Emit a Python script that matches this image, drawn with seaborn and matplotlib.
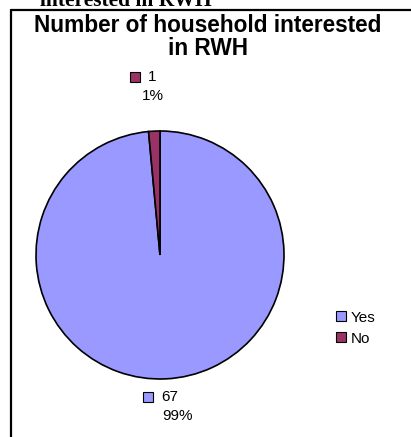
import matplotlib
matplotlib.use("Agg")
import matplotlib.pyplot as plt
from matplotlib.lines import Line2D
import seaborn as sns

categories = ["Yes", "No"]
counts = [67, 1]
percents = ["99%", "1%"]
colors = ["#9999FF", "#993366"]

sns.set_style("white")
plt.rcParams["font.family"] = ["Liberation Sans", "DejaVu Sans"]
plt.rcParams["text.color"] = "black"

W, H = 411, 437
fig = plt.figure(figsize=(W / 100, H / 100), dpi=100)

# pie axes: centre (160, 255) px, radius 124 px
cx, cy, r = 160, 255, 124
ax = fig.add_axes([(cx - r) / W, (H - cy - r) / H, 2 * r / W, 2 * r / H])
wedges, _ = ax.pie(counts, colors=colors, startangle=90, counterclock=False,
                   radius=1, wedgeprops=dict(edgecolor="black", linewidth=1.2))
ax.set_xlim(-1, 1)
ax.set_ylim(-1, 1)
ax.set_aspect("equal")
ax.axis("off")


def px(x, y):
    return (x - cx) / r, (cy - y) / r


# data labels: legend key + value, percent below
label_pos = {"No": ((135, 77), (148, 77), (153, 96)),
             "Yes": ((148, 397), (161, 397), (177, 416))}
for cat, n, pct, col in zip(categories, counts, percents, colors):
    (kx, ky), (tx, ty), (px_, py_) = label_pos[cat]
    ax.plot(*px(kx, ky), marker="s", markersize=6.5, color=col,
            markeredgecolor="black", markeredgewidth=0.8, clip_on=False)
    ax.text(*px(tx, ty), str(n), ha="left", va="center", fontsize=11, clip_on=False)
    ax.text(*px(px_, py_), pct, ha="center", va="center", fontsize=11, clip_on=False)

leg = fig.legend(wedges, categories, loc="upper left",
                 bbox_to_anchor=(322 / W, (H - 297) / H), frameon=False,
                 fontsize=11, handlelength=0.65, handleheight=0.65,
                 handletextpad=0.35, labelspacing=0.45)
for h in leg.legend_handles:
    h.set_edgecolor("black")
    h.set_linewidth(0.8)

fig.text(208 / W, (H - 37) / H, "Number of household interested\nin RWH",
         ha="center", va="center", fontsize=16.3, fontweight="bold", linespacing=1.05)

# cut-off caption at top
fig.text(40 / W, (H - 6) / H, "interested in RWH", ha="left", va="baseline",
         fontsize=15.5, fontweight="bold", family=["Liberation Serif", "DejaVu Serif"])

# chart frame
fig.add_artist(Line2D([11 / W, 1], [(H - 10) / H] * 2, color="black", lw=1.6,
                      transform=fig.transFigure))
fig.add_artist(Line2D([11 / W] * 2, [(H - 10) / H, 0], color="black", lw=1.6,
                      transform=fig.transFigure))

fig.savefig("out.png", dpi=100)
